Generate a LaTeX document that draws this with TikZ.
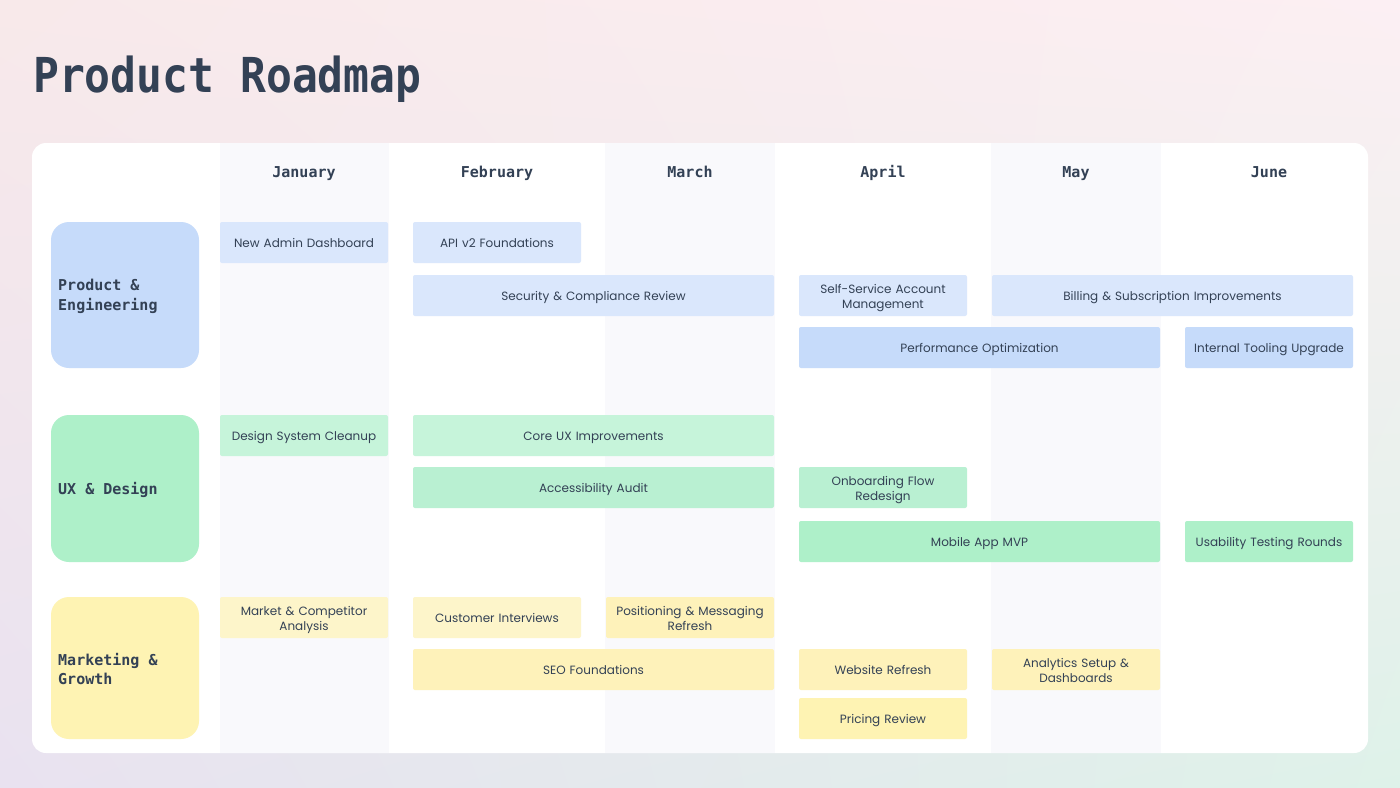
\documentclass[tikz,border=0pt]{standalone}
\usepackage{fontspec}
\setmainfont{Poppins}
\newfontfamily\titlemono{DejaVu Sans Mono}
\usetikzlibrary{positioning,shadings}
\definecolor{ink}{HTML}{334155}
\definecolor{stripe}{HTML}{F9F9FC}
\definecolor{blueA}{HTML}{DAE7FC}
\definecolor{blueB}{HTML}{C6DBFA}
\definecolor{greenA}{HTML}{C6F4DA}
\definecolor{greenB}{HTML}{B9F0D2}
\definecolor{greenC}{HTML}{AEF0C9}
\definecolor{yelA}{HTML}{FDF5CA}
\definecolor{yelB}{HTML}{FEF2BA}
\definecolor{yelC}{HTML}{FEF3B3}
\definecolor{bgUL}{HTML}{F8E9EA}
\definecolor{bgUR}{HTML}{FCEFF3}
\definecolor{bgLL}{HTML}{E9E2F0}
\definecolor{bgLR}{HTML}{DEF2E9}
\hyphenpenalty=10000
\exhyphenpenalty=10000
\newcommand\topstrutx{\rule{0pt}{15.5pt}}
\tikzset{
  task/.style={rounded corners=2pt, minimum height=41pt, inner sep=0pt, align=center,
    text=ink, font=\fontsize{12}{15.5}\selectfont,
    execute at begin node=\topstrutx, execute at end node=\strut},
  one/.style={minimum width=168pt, text width=166pt},
  two/.style={minimum width=361pt, text width=340pt},
  cat/.style={rounded corners=18pt, minimum width=148pt, inner sep=0pt, text=ink},
  catlabel/.style={anchor=west, align=left, inner sep=0pt, text=ink,
    font=\titlemono\bfseries\fontsize{15}{20}\selectfont},
  month/.style={anchor=base, text=ink, font=\titlemono\bfseries\fontsize{15}{18}\selectfont},
}
\begin{document}
\begin{tikzpicture}[x=1pt,y=-1pt]
\useasboundingbox (0,0) rectangle (1400,787);
\shade[upper left=bgUL, upper right=bgUR, lower left=bgLL, lower right=bgLR] (0,0) rectangle (1400,787);
% title
\node[anchor=base west, inner sep=0pt, text=ink, font=\titlemono\bfseries\fontsize{43}{50}\selectfont] (title) at (33,92) {\scalebox{1}[1.12]{Product Roadmap}};
% panel
\fill[white, rounded corners=14pt] (32,143) rectangle (1368,753);
\fill[stripe] (220,143) rectangle (389,753);
\fill[stripe] (605,143) rectangle (775,753);
\fill[stripe] (991,143) rectangle (1161,753);
% months
\node[month] (jan) at (304,177) {January};
\node[month] (feb) at (497,177) {February};
\node[month] (mar) at (690,177) {March};
\node[month] (apr) at (883,177) {April};
\node[month] (may) at (1076,177) {May};
\node[month] (jun) at (1269,177) {June};
% categories
\node[cat, fill=blueB, minimum height=146pt] (pe) at (125,295) {};
\node[catlabel] (pelabel) at (58,296) {Product \&\\Engineering};
\node[cat, fill=greenC, minimum height=147pt] (ux) at (125,488.5) {};
\node[catlabel] (uxlabel) at (58,490) {UX \& Design};
\node[cat, fill=yelC, minimum height=142pt] (mg) at (125,668) {};
\node[catlabel] (mglabel) at (58,669) {Marketing \&\\Growth};
% Product & Engineering tasks
\node[task, one, fill=blueA] (t1) at (304,242.5) {New Admin Dashboard};
\node[task, one, fill=blueA] (t2) at (497,242.5) {API v2 Foundations};
\node[task, two, fill=blueA] (t3) at (593.5,295.5) {Security \& Compliance Review};
\node[task, one, fill=blueA] (t4) at (883,295.5) {Self-Service Account\\Management};
\node[task, two, fill=blueA] (t5) at (1172.5,295.5) {Billing \& Subscription Improvements};
\node[task, two, fill=blueB] (t6) at (979.5,347.5) {Performance Optimization};
\node[task, one, fill=blueB] (t7) at (1269,347.5) {Internal Tooling Upgrade};
% UX tasks
\node[task, one, fill=greenA] (u1) at (304,435.5) {Design System Cleanup};
\node[task, two, fill=greenA] (u2) at (593.5,435.5) {Core UX Improvements};
\node[task, two, fill=greenB] (u3) at (593.5,487.5) {Accessibility Audit};
\node[task, one, fill=greenB] (u4) at (883,487.5) {Onboarding Flow\\Redesign};
\node[task, two, fill=greenC] (u5) at (979.5,541.5) {Mobile App MVP};
\node[task, one, fill=greenC] (u6) at (1269,541.5) {Usability Testing Rounds};
% Marketing tasks
\node[task, one, fill=yelA] (m1) at (304,617.5) {Market \& Competitor\\Analysis};
\node[task, one, fill=yelA] (m2) at (497,617.5) {Customer Interviews};
\node[task, one, fill=yelB] (m3) at (690,617.5) {Positioning \& Messaging\\Refresh};
\node[task, two, fill=yelB] (m4) at (593.5,669.5) {SEO Foundations};
\node[task, one, fill=yelB] (m5) at (883,669.5) {Website Refresh};
\node[task, one, fill=yelB] (m6) at (1076,669.5) {Analytics Setup \&\\Dashboards};
\node[task, one, fill=yelC] (m7) at (883,718.5) {Pricing Review};
\end{tikzpicture}
\end{document}
